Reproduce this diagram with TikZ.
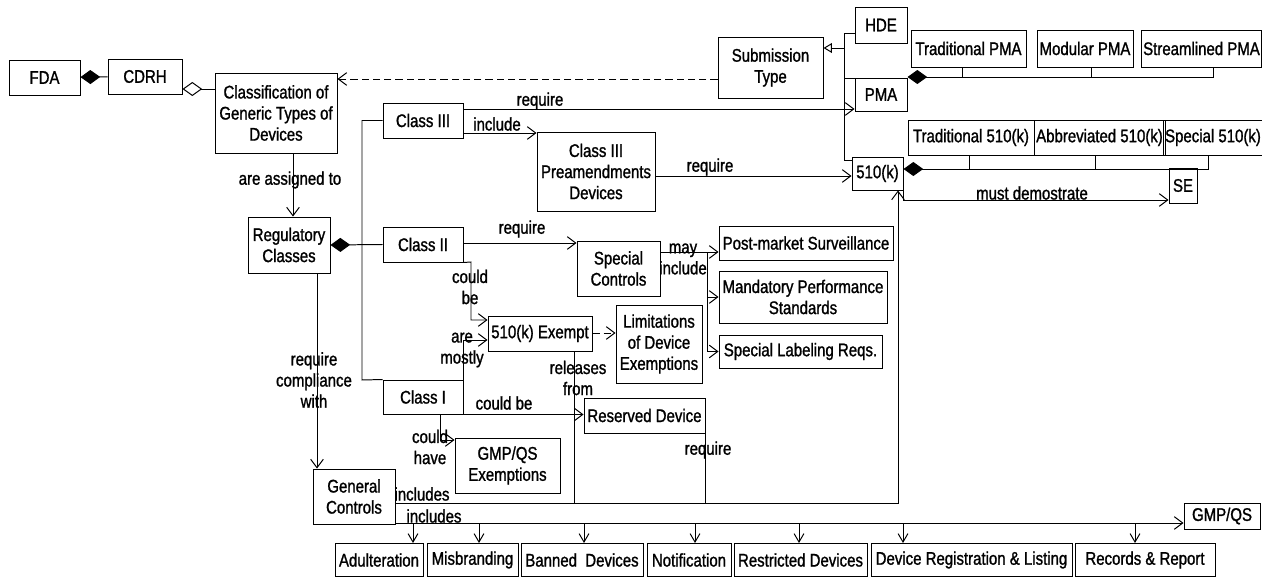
\documentclass[tikz,border=0pt]{standalone}
\usepackage{fontspec}
\setmainfont{Liberation Sans}[FakeStretch=0.82,FakeBold=1.2]
\usetikzlibrary{arrows.meta}
\tikzstyle{box}=[draw,inner sep=1pt,align=center]
\tikzstyle{lab}=[inner sep=0pt,align=center]
\tikzstyle{navi}=[-{Straight Barb[length=6pt,width=9pt]}]
\tikzstyle{dep}=[navi,dash pattern=on 5pt off 3pt]
\tikzstyle{has}=[{Diamond[length=14pt,width=10pt]}-]
\tikzstyle{agg}=[{Diamond[open,length=14pt,width=10pt]}-]
\tikzstyle{isa}=[-{Triangle[open,length=6pt,width=7pt]}]
\tikzstyle{down}=[-{Straight Barb[length=6pt,width=7pt]}]
\tikzset{sz/.style 2 args={minimum width=#1*0.025cm,minimum height=#2*0.025cm}}
\begin{document}
\begin{tikzpicture}[x=0.025cm,y=-0.025cm,line width=0.7pt,
  every node/.style={font=\fontsize{13}{15}\selectfont}]
\useasboundingbox (0,0) rectangle (1262,577);
% boxes
\node[box,sz={71}{35}] (fda) at (44.5,77.5) {FDA};
\node[box,sz={74}{35}] (cdrh) at (145,76.5) {CDRH};
\node[box,sz={122}{80}] (cls) at (276,113) {Classification of\\Generic Types of\\Devices};
\node[box,sz={105}{61}] (sub) at (770.5,67.5) {Submission\\Type};
\node[box,sz={52}{36}] (hde) at (881,25) {HDE};
\node[box,sz={52}{33}] (pma) at (881,94.5) {PMA};
\node[box,sz={115}{37}] (tpma) at (968.5,48.5) {Traditional PMA};
\node[box,sz={96}{37}] (mpma) at (1085,48.5) {Modular PMA};
\node[box,sz={117}{37}] (spma) at (1201.5,48.5) {Streamlined PMA};
\node[box,sz={126}{35}] (t510) at (971,137.5) {Traditional 510(k)};
\node[box,sz={131}{35}] (a510) at (1099.5,137.5) {Abbreviated 510(k)};
\node[box,sz={96}{35}] (s510) at (1213,137.5) {Special 510(k)};
\node[box,sz={51}{33}] (k510) at (877.5,173.5) {510(k)};
\node[box,sz={28}{35}] (se) at (1183,185.5) {SE};
\node[box,sz={80}{35}] (c3) at (423,120.5) {Class III};
\node[box,sz={118}{79}] (pre) at (596,171.5) {Class III\\Preamendments\\Devices};
\node[box,sz={82}{56}] (reg) at (289,245) {Regulatory\\Classes};
\node[box,sz={80}{35}] (c2) at (423,244.5) {Class II};
\node[box,sz={83}{55}] (spc) at (618.5,268.5) {Special\\Controls};
\node[box,sz={174}{34}] (pms) at (806,243) {Post-market Surveillance};
\node[box,sz={168}{52}] (mps) at (803,297) {Mandatory Performance\\Standards};
\node[box,sz={163}{33}] (slr) at (800.5,351.5) {Special Labeling Reqs.};
\node[box,sz={104}{35}] (exm) at (540,333.5) {510(k) Exempt};
\node[box,sz={86}{78}] (lim) at (659,344) {Limitations\\of Device\\Exemptions};
\node[box,sz={80}{34}] (c1) at (423,397) {Class I};
\node[box,sz={121}{35}] (res) at (644.5,415.5) {Reserved Device};
\node[box,sz={105}{55}] (gmpe) at (507.5,465.5) {GMP/QS\\Exemptions};
\node[box,sz={82}{55}] (gc) at (354,496.5) {General\\Controls};
\node[box,sz={76}{26}] (gmp) at (1222,516) {GMP/QS};
\node[box,sz={88}{33}] (adu) at (379,560) {Adulteration};
\node[box,sz={91}{33}] (mis) at (472.5,560) {Misbranding};
\node[box,sz={122}{33}] (ban) at (582,560) {Banned\ \ Devices};
\node[box,sz={84}{33}] (noti) at (689,560) {Notification};
\node[box,sz={133}{33}] (rst) at (800.5,560) {Restricted Devices};
\node[box,sz={201}{33}] (drl) at (971.5,560) {Device Registration \& Listing};
\node[box,sz={140}{33}] (rec) at (1145,560) {Records \& Report};
% top left
\draw[has] (fda) -- (cdrh);
\draw[agg] (cdrh.east |- 0,89) -- (cls.west |- 0,89);
\draw[dep] (sub.west |- 0,79) -- (cls.east |- 0,79);
% submission types
\coordinate (gtop) at (844,48);
\coordinate (gbot) at (844,160);
\draw[isa] (gtop) -- (sub.east |- gtop);
\draw (hde.west |- 0,33) -| (gbot) -- (k510.west |- gbot);
\draw (gtop |- 0,78) -- (pma.west |- 0,78);
\draw[has] (pma.east |- 0,77) -- (1213,77) -- (spma.south -| 1213,0);
\draw (tpma.south -| 962,0) -- (962,77);
\draw (mpma.south -| 1091,0) -- (1091,77);
\draw[has] (k510.east |- 0,169) -- (1208,169) -- (s510.south -| 1208,0);
\draw (t510.south -| 969,0) -- (969,169);
\draw (a510.south -| 1095,0) -- (1095,169);
\draw[navi] (k510.south east) |- (se.west |- 0,200);
% classes
\draw[navi] (cls.south -| 293,0) -- (reg.north -| 293,0);
\draw[has] (reg.east) -- (c2.west);
\draw (c3.west) -| (362,380) -- (c1.north west);
\draw[navi] (c3.east |- 0,109) -- (pma.west |- 0,109);
\draw[navi] (c3.east |- 0,133) -- (pre.west |- 0,133);
\draw[navi] (pre.east |- 0,176) -- (k510.west |- 0,176);
\draw[navi] (c2.east |- 0,243) -- (spc.west |- 0,243);
\draw[navi] (c2.south east) -- (471,262) |- (exm.west |- 0,320);
\draw[navi] (c1.north east) |- (exm.west |- 0,340);
\draw[dep] (exm.east |- 0,333) -- (lim.west |- 0,333);
\coordinate (may) at (707,252);
\draw (spc.east |- may) -- (may);
\draw[navi] (may) -- (pms.west |- may);
\draw[navi] (may) |- (mps.west);
\draw[navi] (may) |- (slr.west);
\draw[navi] (c1.south east) -- (c1.south east -| res.west);
\draw[navi] (c1.south -| 440,0) |- (gmpe.west |- 0,440);
\draw[navi] (reg.south -| 317,0) -- (gc.north -| 317,0);
% general controls
\coordinate (bus) at (898,503);
\draw[navi] (gc.east |- bus) -| (k510.south -| bus);
\draw (exm.south -| 574,0) -- (574,503);
\draw (res.south east) -- (res.south east |- bus);
\draw[navi] (gc.east |- 0,523) -- (gmp.west |- 0,523);
\foreach \n/\x in {adu/413,mis/479,ban/584,noti/695,rst/799,drl/903,rec/1135}
  \draw[down] (\x,523) -- (\n.north -| \x,0);
% labels
\node[lab] (lassign) at (290,180) {are assigned to};
\node[lab] (lreq3) at (540,101) {require};
\node[lab] (linc) at (497,124) {include};
\node[lab] (lreqp) at (710,167) {require};
\node[lab] (lreq2) at (522,229) {require};
\node[lab] (lmay) at (683,259) {may\\include};
\node[lab] (lcould) at (470,287) {could\\be};
\node[lab] (lmost) at (462,350) {are\\mostly};
\node[lab] (lrel) at (578,378) {releases\\from};
\node[lab] (lcb) at (504,403) {could be};
\node[lab] (lhave) at (430,447) {could\\have};
\node[lab] (lreqr) at (708,450) {require};
\node[lab] (lcomp) at (314,380) {require\\compliance\\with};
\node[lab] (linc1) at (422,494) {includes};
\node[lab] (linc2) at (434,516) {includes};
\node[lab] (lse) at (1032,193) {must demostrate};
\end{tikzpicture}
\end{document}
